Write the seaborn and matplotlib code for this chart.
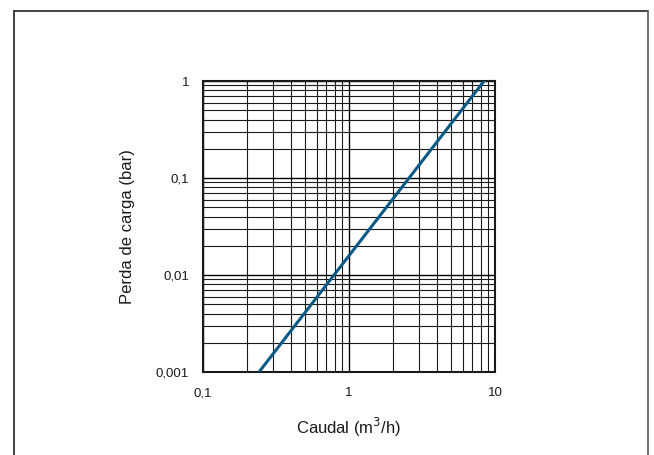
import matplotlib
matplotlib.use("Agg")
import matplotlib.pyplot as plt
from matplotlib.lines import Line2D
from matplotlib.ticker import FixedLocator, NullFormatter, LogLocator
import seaborn as sns
import pandas as pd

caudal = [0.242, 8.42]
perda = [0.001, 1.0]
x_ticks = [0.1, 1, 10]
x_tick_labels = ["0,1", "1", "10"]
y_ticks = [0.001, 0.01, 0.1, 1]
y_tick_labels = ["0,001", "0,01", "0,1", "1"]

sns.set_theme(style="white")
plt.rcParams['font.family'] = ['Liberation Sans', 'DejaVu Sans']

fig = plt.figure(figsize=(6.54, 4.55), dpi=100)
ax = fig.add_axes([203/654, 1-372/455, 292/654, 291/455])

df = pd.DataFrame({"x": caudal, "y": perda})
sns.lineplot(data=df, x="x", y="y", ax=ax, color="#0b5a86", lw=2.2, zorder=5)

ax.set_xscale("log")
ax.set_yscale("log")
ax.set_xlim(0.1, 10)
ax.set_ylim(0.001, 1)

ax.xaxis.set_major_locator(FixedLocator(x_ticks))
ax.set_xticklabels(x_tick_labels)
ax.yaxis.set_major_locator(FixedLocator(y_ticks))
ax.set_yticklabels(y_tick_labels)
ax.xaxis.set_minor_locator(LogLocator(base=10, subs=range(2, 10)))
ax.yaxis.set_minor_locator(LogLocator(base=10, subs=range(2, 10)))
ax.xaxis.set_minor_formatter(NullFormatter())
ax.yaxis.set_minor_formatter(NullFormatter())

ax.grid(True, which="major", color="black", lw=1.0)
ax.grid(True, which="minor", color="#1a1a1a", lw=0.8)
ax.tick_params(which="both", length=0, labelsize=9.5, colors="#1a1a1a")
ax.tick_params(axis="x", pad=11)
ax.tick_params(axis="y", pad=10)
for s in ax.spines.values():
    s.set_color("#1a1a1a")
    s.set_linewidth(1.5)

ax.set_xlabel("Caudal (m$^3$/h)", fontsize=12, color="#1a1a1a", labelpad=12)
ax.set_ylabel("Perda de carga (bar)", fontsize=12, color="#1a1a1a", labelpad=15)

# outer frame (no bottom edge)
fl, fr, ft = 13.5/654, 647.5/654, 1-10.5/455
fig.add_artist(Line2D([fl, fl], [0, ft], transform=fig.transFigure, color="#333333", lw=1.3))
fig.add_artist(Line2D([fl, fr], [ft, ft], transform=fig.transFigure, color="#333333", lw=1.3))
fig.add_artist(Line2D([fr, fr], [0, ft], transform=fig.transFigure, color="#666666", lw=1.3))

fig.savefig("out.png", dpi=100)
